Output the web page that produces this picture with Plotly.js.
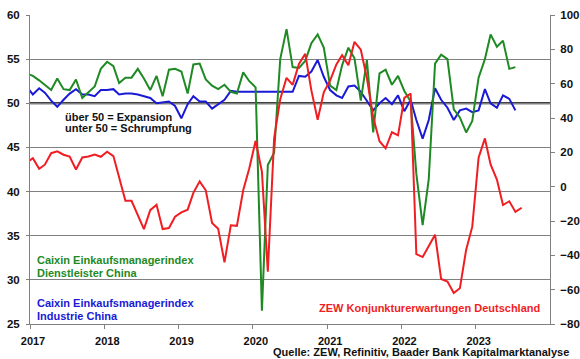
<!DOCTYPE html>
<html>
<head>
<meta charset="utf-8">
<script src="https://cdn.plot.ly/plotly-3.0.1.min.js"></script>
<style>html,body{margin:0;padding:0;background:#fff;}#chart{width:580px;height:359px;}</style>
</head>
<body>
<div id="chart"></div>
<script>
// Monthly series, first value = Dec 2016
const startYear = 2016, startMonth = 12;

// Caixin Einkaufsmanagerindex Dienstleister China (Dec 2016 – Jul 2023)
const servicesPMI = [
  53.4,
  53.1, 52.6, 52.1, 51.5, 52.8, 51.6, 51.5, 52.7, 50.6, 51.2, 51.9, 53.9,
  54.7, 54.2, 52.3, 52.9, 52.9, 53.9, 52.8, 51.5, 53.1, 50.8, 53.8, 53.9,
  53.6, 51.1, 54.4, 54.5, 52.7, 52.0, 51.6, 52.1, 51.3, 51.1, 53.5, 52.5,
  51.8, 26.5, 43.0, 44.4, 55.0, 58.4, 54.1, 54.0, 54.8, 56.8, 57.8, 56.3,
  52.0, 51.5, 54.3, 56.3, 55.1, 50.3, 54.9, 46.7, 53.4, 53.8, 52.1, 53.1,
  51.4, 50.2, 42.0, 36.2, 41.4, 54.5, 55.5, 55.0, 49.3, 48.4, 46.7, 48.0,
  52.9, 55.0, 57.8, 56.4, 57.1, 53.9, 54.1
];

// Caixin Einkaufsmanagerindex Industrie China (Dec 2016 – Jul 2023)
const manufacturingPMI = [
  51.9,
  51.0, 51.7, 51.2, 50.3, 49.6, 50.4, 51.1, 51.6, 51.0, 51.0, 50.8, 51.5,
  51.5, 51.6, 51.0, 51.1, 51.1, 51.0, 50.8, 50.6, 50.0, 50.1, 50.2, 49.7,
  48.3, 49.9, 50.8, 50.2, 50.2, 49.4, 49.9, 50.4, 51.4, 51.3, 51.3, 51.3,
  51.3, 51.3, 51.3, 51.3, 51.3, 51.3, 51.3, 53.1, 53.0, 53.6, 54.9, 53.0,
  51.5, 50.9, 50.6, 51.9, 52.0, 51.3, 50.3, 49.2, 50.0, 50.6, 49.9, 50.9,
  49.1, 50.4, 48.1, 46.0, 48.1, 51.7, 50.4, 49.5, 48.1, 49.2, 49.4, 49.0,
  49.2, 51.6, 50.0, 49.5, 50.9, 50.5, 49.2
];

// ZEW Konjunkturerwartungen Deutschland (Dec 2016 – Aug 2023), right axis
const zewExpectations = [
  13.8,
  16.6, 10.4, 12.8, 19.5, 20.6, 18.6, 17.5, 10.0, 17.0, 17.6, 18.7, 17.4,
  20.4, 17.8, 5.1, -8.2, -8.2, -16.1, -24.7, -13.7, -10.6, -24.7, -24.1, -17.5,
  -15.0, -13.4, -3.6, 3.1, -2.1, -21.1, -24.5, -44.1, -22.5, -22.8, -2.1, 10.7,
  26.7, 8.7, -49.5, 28.2, 51.0, 63.4, 59.3, 71.5, 77.4, 56.1, 39.0, 55.0,
  61.8, 71.2, 76.6, 70.7, 84.4, 79.8, 63.3, 40.4, 26.5, 22.3, 31.7, 29.9,
  51.7, 54.3, -39.3, -41.0, -34.3, -28.0, -53.8, -55.3, -61.9, -59.2, -36.7, -23.3,
  16.9, 28.1, 13.0, 4.1, -10.7, -8.5, -14.7, -12.3
];

const yearTicks = ['2017', '2018', '2019', '2020', '2021', '2022', '2023'];

function monthDates(n) {
  const out = [];
  let y = startYear, m = startMonth;
  for (let i = 0; i < n; i++) {
    out.push(y + '-' + String(m).padStart(2, '0') + '-15');
    m++; if (m > 12) { m = 1; y++; }
  }
  return out;
}

const green = '#1f8a24', blue = '#1a1ad6', red = '#f01e23';
const fontFam = '"Liberation Sans", Arial, sans-serif';

const traces = [
  { x: monthDates(manufacturingPMI.length), y: manufacturingPMI, type: 'scatter', mode: 'lines',
    line: { color: blue, width: 2 }, name: 'Caixin Einkaufsmanagerindex Industrie China', yaxis: 'y' },
  { x: monthDates(servicesPMI.length), y: servicesPMI, type: 'scatter', mode: 'lines',
    line: { color: green, width: 2 }, name: 'Caixin Einkaufsmanagerindex Dienstleister China', yaxis: 'y' },
  { x: monthDates(zewExpectations.length), y: zewExpectations, type: 'scatter', mode: 'lines',
    line: { color: red, width: 2 }, name: 'ZEW Konjunkturerwartungen Deutschland', yaxis: 'y2' }
];

function ann(text, x, y, color, anchor) {
  return { text: text, xref: 'paper', yref: 'paper', x: x, y: y, xanchor: anchor || 'left', yanchor: 'middle',
    showarrow: false, font: { family: fontFam, size: 11, color: color, weight: 'bold' } };
}

const layout = {
  width: 580, height: 359,
  margin: { l: 30, r: 30, t: 15, b: 35 },
  paper_bgcolor: '#ffffff', plot_bgcolor: '#ffffff',
  showlegend: false,
  font: { family: fontFam, size: 11, color: '#111' },
  xaxis: {
    type: 'date', range: ['2017-01-01', '2024-01-01'],
    tickvals: yearTicks.map(y => y + '-01-01'), ticktext: yearTicks,
    ticks: 'outside', ticklen: 4, tickcolor: '#808080',
    showline: true, linecolor: '#808080', linewidth: 1,
    showgrid: false, zeroline: false,
    tickfont: { family: fontFam, size: 11, color: '#111', weight: 'bold' },
    ticklabelshift: 3, ticklabelstandoff: 3
  },
  yaxis: {
    range: [25, 60], tick0: 25, dtick: 5,
    showgrid: true, gridcolor: '#808080', gridwidth: 1,
    showline: true, linecolor: '#808080', linewidth: 1,
    ticks: 'outside', ticklen: 3, tickcolor: '#808080',
    zeroline: false,
    tickfont: { family: fontFam, size: 11.5, color: '#111', weight: 'bold' },
    ticklabelstandoff: 4
  },
  yaxis2: {
    overlaying: 'y', side: 'right', range: [-80, 100], tick0: -80, dtick: 20,
    showgrid: false, zeroline: false,
    showline: true, linecolor: '#808080', linewidth: 1,
    ticks: 'outside', ticklen: 4, tickcolor: '#808080',
    tickfont: { family: fontFam, size: 11.5, color: '#111', weight: 'bold' },
    ticklabelstandoff: 3
  },
  shapes: [
    { type: 'line', xref: 'paper', yref: 'y', x0: 0, x1: 1, y0: 50, y1: 50,
      line: { color: '#000000', width: 2 }, layer: 'below' }
  ],
  annotations: [
    ann('über 50 = Expansion', 0.0635, 0.671, '#111'),
    ann('unter 50 = Schrumpfung', 0.0635, 0.633, '#111'),
    ann('Caixin Einkaufsmanagerindex', 0.0096, 0.207, green),
    ann('Dienstleister China', 0.0096, 0.166, green),
    ann('Caixin Einkaufsmanagerindex', 0.0096, 0.069, blue),
    ann('Industrie China', 0.0096, 0.027, blue),
    ann('ZEW Konjunkturerwartungen Deutschland', 0.551, 0.0527, red),
    ann('Quelle: ZEW, Refinitiv, Baader Bank Kapitalmarktanalyse', 0.4635, -0.0896, '#111')
  ]
};

Plotly.newPlot('chart', traces, layout, { displayModeBar: false, staticPlot: true });
</script>
</body>
</html>
